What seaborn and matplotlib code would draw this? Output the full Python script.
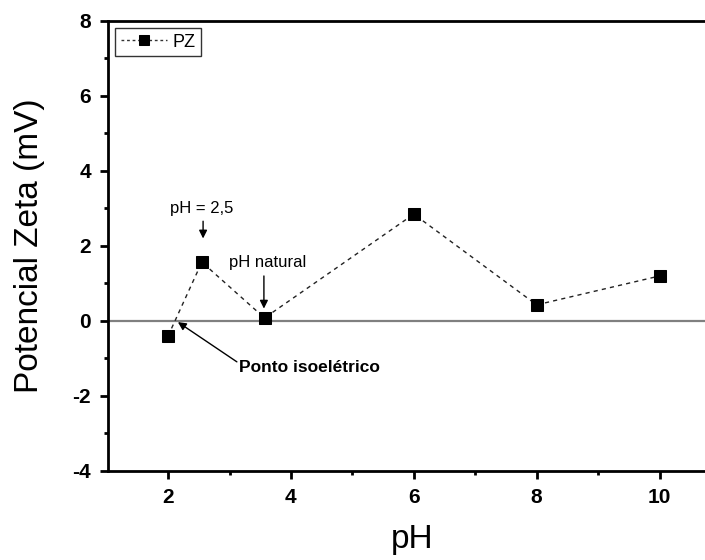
import matplotlib
matplotlib.use("Agg")
import matplotlib.pyplot as plt
import seaborn as sns
import pandas as pd
from matplotlib.ticker import MultipleLocator

ph = [2.0, 2.55, 3.57, 6.0, 8.0, 10.0]
zeta = [-0.40, 1.57, 0.08, 2.85, 0.43, 1.20]
series_name = "PZ"
x_ticks = [2, 4, 6, 8, 10]
y_ticks = [-4, -2, 0, 2, 4, 6, 8]

sns.set_theme(style="ticks")
plt.rcParams['font.family'] = ['Liberation Sans', 'DejaVu Sans']
plt.rcParams['axes.unicode_minus'] = False
plt.rcParams['text.color'] = 'black'
plt.rcParams['xtick.color'] = 'black'
plt.rcParams['ytick.color'] = 'black'
plt.rcParams['axes.labelcolor'] = 'black'

df = pd.DataFrame({"pH": ph, "zeta": zeta, "serie": series_name})

fig = plt.figure(figsize=(7.05, 5.6), dpi=100)
ax = fig.add_axes([0.153, 0.159, 0.847, 0.8035])

ax.axhline(0, color="#808080", lw=1.6, zorder=1)
sns.lineplot(data=df, x="pH", y="zeta", hue="serie", palette=["black"],
             marker="s", markersize=9, markeredgecolor="black",
             linestyle=(0, (3, 3)), lw=1.0, ax=ax, zorder=3, sort=False)
for l in ax.lines[1:]:
    l.set_color("#222222")
    l.set_markerfacecolor("black")
    l.set_markeredgecolor("black")

ax.set_xlim(1.02, 10.74)
ax.set_ylim(-4, 8)
ax.set_xticks(x_ticks)
ax.set_yticks(y_ticks)
ax.xaxis.set_minor_locator(MultipleLocator(1))
ax.yaxis.set_minor_locator(MultipleLocator(1))
ax.tick_params(which="major", direction="out", length=6, width=2, labelsize=15, pad=6)
ax.tick_params(which="minor", direction="out", length=3, width=2)
for lab in ax.get_xticklabels() + ax.get_yticklabels():
    lab.set_fontweight("bold")

for s in ["left", "bottom", "top"]:
    ax.spines[s].set_linewidth(2)
    ax.spines[s].set_color("black")
ax.spines["right"].set_visible(False)

ax.set_xlabel("pH", fontsize=24)
ax.set_ylabel("Potencial Zeta (mV)", fontsize=24)
ax.xaxis.set_label_coords(0.509, -0.118)
ax.yaxis.set_label_coords(-0.105, 0.5)

arrow = dict(arrowstyle="-|>", color="black", lw=1, shrinkA=0, shrinkB=0,
             mutation_scale=12)
ax.text(2.55, 3.0, "pH = 2,5", ha="center", va="center", fontsize=12)
ax.annotate("", xy=(2.57, 2.2), xytext=(2.57, 2.66), arrowprops=arrow)
ax.text(3.62, 1.57, "pH natural", ha="center", va="center", fontsize=12)
ax.annotate("", xy=(3.56, 0.33), xytext=(3.56, 1.2), arrowprops=arrow)
ax.text(3.15, -1.25, "Ponto isoelétrico", ha="left", va="center",
        fontsize=12.5, fontweight="bold")
ax.annotate("", xy=(2.16, -0.03), xytext=(3.12, -1.09), arrowprops=arrow)

leg = ax.legend(handles=ax.get_legend_handles_labels()[0], labels=[series_name],
                loc="upper left", frameon=True, fancybox=False, fontsize=13,
                handlelength=2.6, borderpad=0.3, borderaxespad=0.4, handletextpad=0.3)
leg.get_frame().set_edgecolor("black")
leg.get_frame().set_linewidth(1)
for h in leg.legend_handles:
    h.set_color("#333333")
    h.set_linestyle((0, (2, 2)))
    h.set_markerfacecolor("black")
    h.set_markeredgecolor("black")
    h.set_markersize(7)

fig.savefig("out.png", dpi=100)
